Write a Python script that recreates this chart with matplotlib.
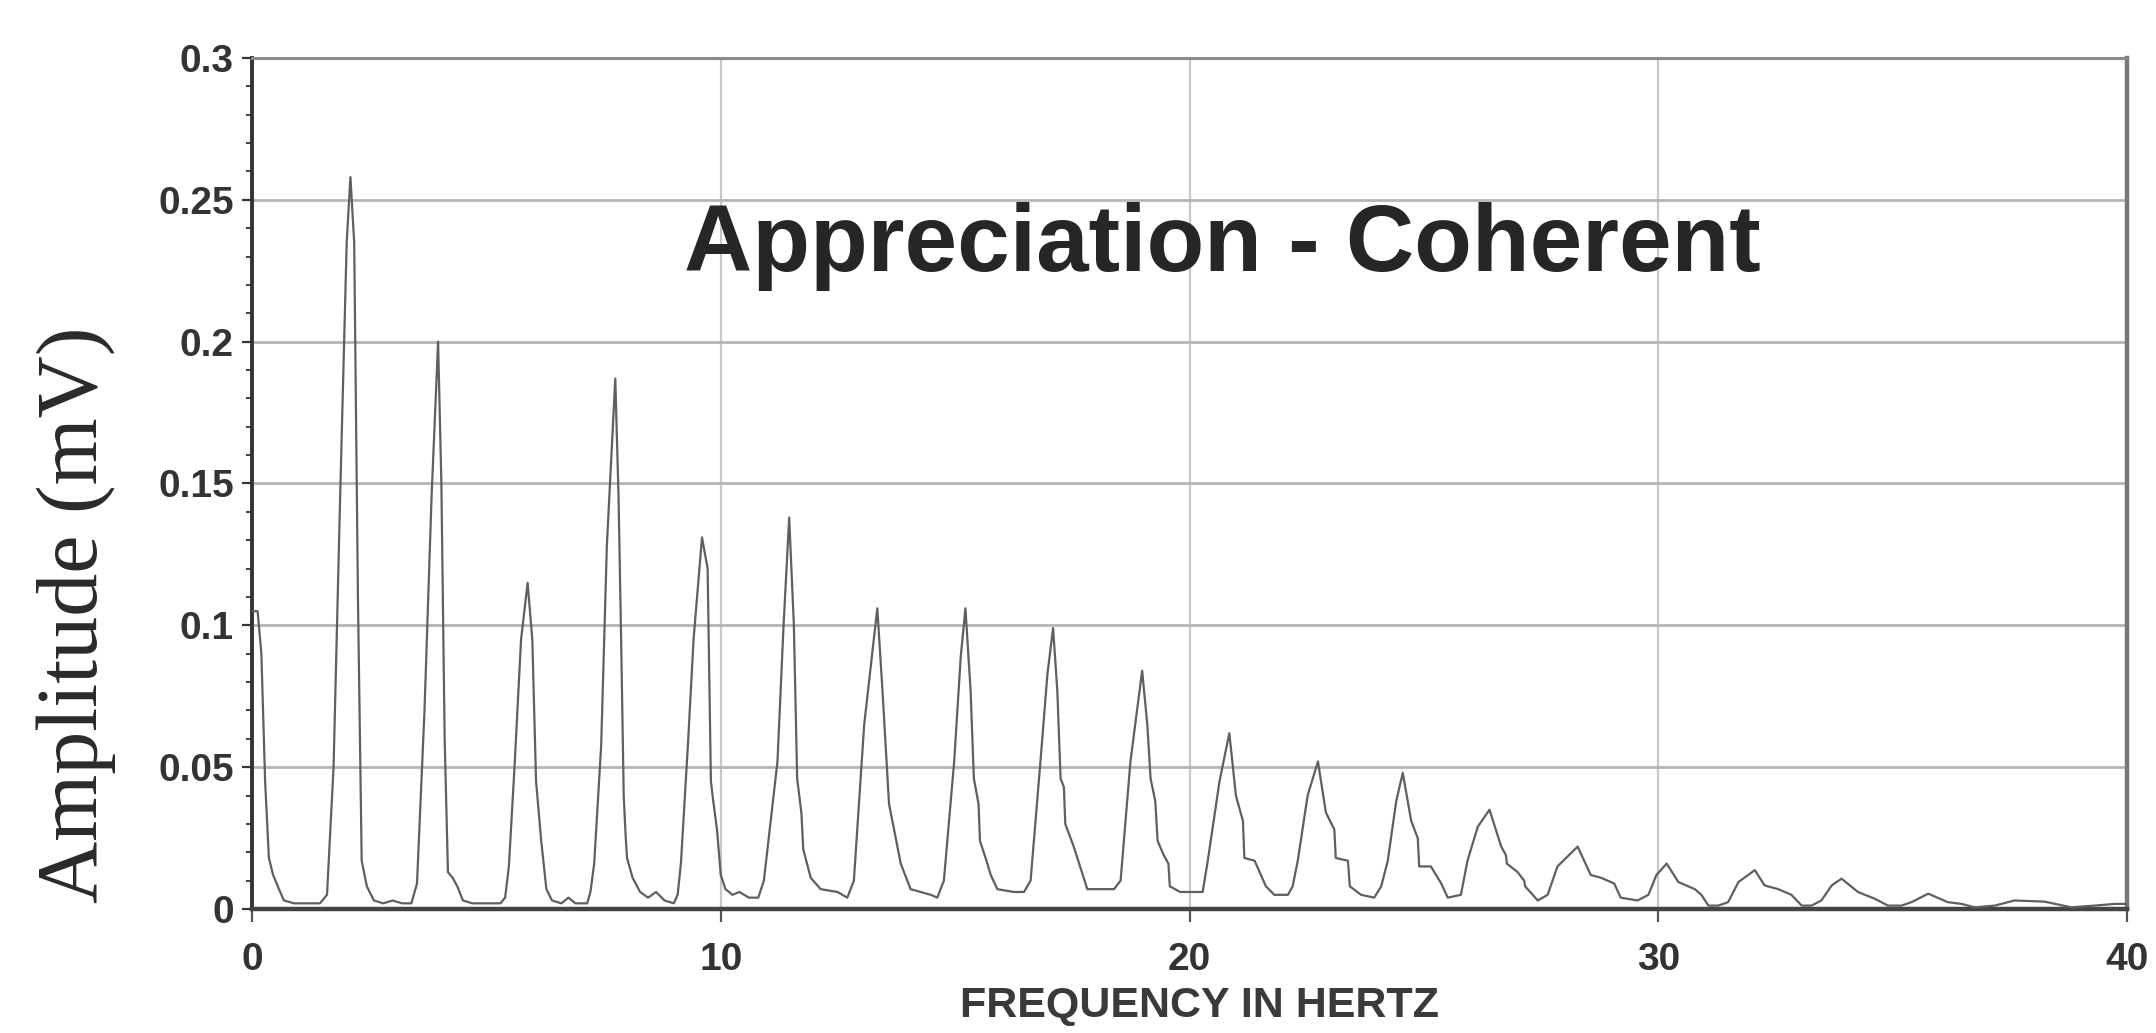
import matplotlib
matplotlib.use("Agg")
import matplotlib.pyplot as plt
from matplotlib import font_manager as fm
from matplotlib.ticker import MultipleLocator, FixedLocator

# ---- data (frequency in Hz, amplitude in mV) ----
freq_hz = [
    0.00, 0.12, 0.20, 0.28, 0.36, 0.45, 0.55, 0.68, 0.90, 1.20, 1.45,
    1.60, 1.74, 1.88, 2.02, 2.10, 2.18, 2.26, 2.34, 2.45, 2.60, 2.80, 3.00, 3.20, 3.40,
    3.52, 3.68, 3.83, 3.97, 4.04, 4.11, 4.18, 4.28, 4.38, 4.50, 4.70, 5.00, 5.30,
    5.40, 5.48, 5.60, 5.74, 5.88, 5.98, 6.06, 6.17, 6.28, 6.40, 6.60, 6.75, 6.90, 7.15,
    7.22, 7.30, 7.45, 7.57, 7.75, 7.82, 7.88, 7.93, 7.97, 8.00, 8.12, 8.28, 8.45, 8.62, 8.80, 9.00,
    9.08, 9.15, 9.30, 9.42, 9.60, 9.72, 9.79, 9.84, 9.92, 10.00, 10.10, 10.25, 10.40, 10.60, 10.80,
    10.92, 11.21, 11.34, 11.46, 11.56, 11.63, 11.72, 11.76, 11.92, 12.13, 12.49, 12.70,
    12.84, 13.06, 13.34, 13.45, 13.59, 13.84, 14.05, 14.48, 14.62,
    14.76, 14.98, 15.12, 15.22, 15.33, 15.40, 15.50, 15.53, 15.65, 15.76, 15.90, 16.25, 16.47,
    16.61, 16.82, 16.97, 17.09, 17.18, 17.25, 17.32, 17.35, 17.53, 17.82, 18.17, 18.39,
    18.53, 18.74, 18.99, 19.10, 19.17, 19.27, 19.32, 19.45, 19.55, 19.58, 19.80, 20.15,
    20.28, 20.39, 20.64, 20.85, 20.99, 21.14, 21.17, 21.39, 21.63, 21.81, 22.10,
    22.20, 22.31, 22.52, 22.74, 22.91, 23.09, 23.12, 23.38, 23.42, 23.66, 23.94,
    24.09, 24.23, 24.41, 24.55, 24.73, 24.87, 24.90, 25.15, 25.37, 25.51, 25.79,
    25.93, 26.15, 26.40, 26.65, 26.75, 26.77, 27.00, 27.14, 27.16, 27.43,
    27.64, 27.85, 28.28, 28.56, 28.78, 29.06, 29.20, 29.56,
    29.79, 29.96, 30.18, 30.43, 30.78, 30.92, 31.07, 31.28,
    31.49, 31.71, 32.06, 32.27, 32.56, 32.84, 33.06, 33.27,
    33.48, 33.70, 33.91, 34.26, 34.62, 34.90, 35.19,
    35.40, 35.76, 36.18, 36.47, 36.75,
    37.18, 37.60, 38.24, 38.81,
    39.31, 39.74, 40.00,
]
amplitude_mv = [
    0.105, 0.105, 0.090, 0.045, 0.018, 0.012, 0.008, 0.003, 0.002, 0.002, 0.002,
    0.005, 0.050, 0.145, 0.235, 0.258, 0.235, 0.110, 0.017, 0.008, 0.003, 0.002, 0.003, 0.002, 0.002,
    0.009, 0.070, 0.145, 0.200, 0.150, 0.060, 0.013, 0.011, 0.008, 0.003, 0.002, 0.002, 0.002,
    0.004, 0.015, 0.050, 0.095, 0.115, 0.095, 0.045, 0.024, 0.007, 0.003, 0.002, 0.004, 0.002, 0.002,
    0.006, 0.016, 0.058, 0.128, 0.187, 0.145, 0.090, 0.040, 0.026, 0.018, 0.011, 0.006, 0.004, 0.006, 0.003, 0.002,
    0.005, 0.016, 0.058, 0.095, 0.131, 0.120, 0.045, 0.038, 0.028, 0.012, 0.007, 0.005, 0.006, 0.004, 0.004,
    0.010, 0.052, 0.100, 0.138, 0.100, 0.046, 0.034, 0.021, 0.011, 0.007, 0.006, 0.004,
    0.010, 0.065, 0.106, 0.077, 0.037, 0.016, 0.007, 0.005, 0.004,
    0.010, 0.052, 0.089, 0.106, 0.077, 0.046, 0.037, 0.024, 0.018, 0.012, 0.007, 0.006, 0.006,
    0.010, 0.052, 0.083, 0.099, 0.077, 0.046, 0.043, 0.030, 0.022, 0.007, 0.007, 0.007,
    0.010, 0.052, 0.084, 0.065, 0.046, 0.038, 0.024, 0.019, 0.016, 0.008, 0.006, 0.006,
    0.006, 0.017, 0.045, 0.062, 0.040, 0.031, 0.018, 0.017, 0.008, 0.005, 0.005,
    0.008, 0.017, 0.040, 0.052, 0.034, 0.028, 0.018, 0.017, 0.008, 0.005, 0.004,
    0.008, 0.017, 0.038, 0.048, 0.031, 0.025, 0.015, 0.015, 0.009, 0.004, 0.005,
    0.017, 0.029, 0.035, 0.022, 0.019, 0.016, 0.013, 0.010, 0.008, 0.003,
    0.005, 0.015, 0.022, 0.012, 0.011, 0.009, 0.004, 0.003,
    0.005, 0.012, 0.016, 0.0095, 0.007, 0.005, 0.0012, 0.0012,
    0.0024, 0.0095, 0.0137, 0.0083, 0.007, 0.005, 0.0012, 0.0012,
    0.003, 0.0083, 0.0107, 0.006, 0.0036, 0.0012, 0.0012,
    0.0024, 0.0054, 0.0024, 0.0018, 0.0006,
    0.0012, 0.003, 0.0026, 0.0006,
    0.0012, 0.0018, 0.0018,
]

x_ticks = [0, 10, 20, 30, 40]
x_tick_labels = ["0", "10", "20", "30", "40"]
y_ticks = [0, 0.05, 0.1, 0.15, 0.2, 0.25, 0.3]
y_tick_labels = ["0", "0.05", "0.1", "0.15", "0.2", "0.25", "0.3"]

title_text = "Appreciation - Coherent"
x_label = "FREQUENCY IN HERTZ"
y_label = "Amplitude (mV)"

title_fp = fm.FontProperties(family=["Liberation Sans", "DejaVu Sans"],
                             weight="bold", size=68)

# ---- figure ----
W, H = 2156, 1033
fig = plt.figure(figsize=(W / 100, H / 100), dpi=100)
ax = fig.add_axes([252 / W, 1 - 909 / H, (2127 - 252) / W, (909 - 58) / H])

ax.plot(freq_hz, amplitude_mv, color="#5f5f5f", lw=1.6, zorder=3,
        solid_joinstyle="round")

ax.set_xlim(0, 40)
ax.set_ylim(0, 0.3)
ax.xaxis.set_major_locator(FixedLocator(x_ticks))
ax.yaxis.set_major_locator(FixedLocator(y_ticks))
ax.yaxis.set_minor_locator(MultipleLocator(0.01))
ax.set_xticklabels(x_tick_labels)
ax.set_yticklabels(y_tick_labels)

ax.grid(True, which="major", axis="y", color="#b5b5b5", lw=2.0, zorder=0)
ax.grid(True, which="major", axis="x", color="#c8c8c8", lw=1.6, zorder=0)

ax.tick_params(axis="y", which="major", direction="out", length=7, width=1.6,
               color="#333333", pad=6, labelsize=28)
ax.tick_params(axis="y", which="minor", direction="out", length=4, width=1.3,
               color="#333333")
ax.tick_params(axis="x", which="major", direction="out", length=9, width=1.6,
               color="#555555", pad=15, labelsize=28)
for lab in ax.get_xticklabels() + ax.get_yticklabels():
    lab.set_family(["Liberation Sans", "DejaVu Sans"])
    lab.set_fontweight("bold")
    lab.set_color("#333333")

ax.spines["left"].set_color("#333333")
ax.spines["left"].set_linewidth(2.8)
ax.spines["bottom"].set_color("#444444")
ax.spines["bottom"].set_linewidth(3.2)
ax.spines["top"].set_color("#8a8a8a")
ax.spines["top"].set_linewidth(2.2)
ax.spines["right"].set_color("#777777")
ax.spines["right"].set_linewidth(3.2)

# title inside the plot
ax.text(20.71, 0.2249, title_text, ha="center", va="baseline",
        fontproperties=title_fp, color="#262626", zorder=4)

# axis labels
fig.text(1200 / W, 1 - 1006 / H, x_label, ha="center", va="center",
         family=["Liberation Sans", "DejaVu Sans"], fontweight="bold",
         fontsize=31, color="#3a3a3a")
fig.text(76 / W, 1 - 615 / H, y_label, ha="center", va="center", rotation=90,
         family=["Liberation Serif", "DejaVu Serif"], fontsize=62, color="#2a2a2a")

fig.savefig("out.png", dpi=100, facecolor="white")
